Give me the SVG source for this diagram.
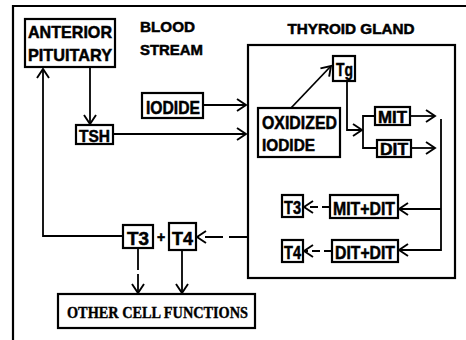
<svg xmlns="http://www.w3.org/2000/svg" width="466" height="340" viewBox="0 0 466 340">
<style>
.box{fill:#fff;stroke:#000;stroke-width:2.2}
.t{font-family:"Liberation Sans",Arial,sans-serif;font-weight:bold;fill:#000;stroke:#000;stroke-width:0.5}
.s{font-family:"Liberation Serif","Times New Roman",serif;font-weight:bold;fill:#000;stroke:#000;stroke-width:0.4}
.c{fill:none;stroke:#000;stroke-width:1.8}
</style>
<defs>
<marker id="a" markerUnits="userSpaceOnUse" markerWidth="13" markerHeight="15" refX="10" refY="7" orient="auto" viewBox="0 0 13 14">
<path d="M1,1 L10,7 L1,13" fill="none" stroke="#000" stroke-width="1.9"/>
</marker>
</defs>
<rect width="466" height="340" fill="#fff"/>
<path d="M13,340 V6 H466" fill="none" stroke="#000" stroke-width="2.2"/>
<g id="thyroid">
<rect x="248" y="45" width="207" height="233" fill="none" stroke="#000" stroke-width="2.2"/>
<text class="t" x="351" y="34" font-size="14" text-anchor="middle" textLength="127" lengthAdjust="spacingAndGlyphs">THYROID GLAND</text>
</g>
<g id="blood-stream">
<text class="t" x="140" y="32" font-size="15" textLength="55" lengthAdjust="spacingAndGlyphs">BLOOD</text>
<text class="t" x="140" y="55" font-size="15" textLength="63" lengthAdjust="spacingAndGlyphs">STREAM</text>
</g>
<g id="connectors">
<path class="c" d="M90,67 V124" marker-end="url(#a)"/>
<path class="c" d="M123,236 H43 V69" marker-end="url(#a)"/>
<path class="c" d="M203,105 H246" marker-end="url(#a)"/>
<path class="c" d="M113,134 H246" marker-end="url(#a)"/>
<path class="c" d="M291,108 L331,66" stroke-width="2.6" marker-end="url(#a)"/>
<path class="c" d="M347,81 V130 H362" stroke-width="2.2" marker-end="url(#a)"/>
<path class="c" d="M375,116 H363 V148 H377" stroke-width="2.2"/>
<path class="c" d="M410,116 H435" marker-end="url(#a)"/>
<path class="c" d="M411,148 H435" marker-end="url(#a)"/>
<path class="c" d="M441,119 V250 H399" stroke-width="2.2" marker-end="url(#a)"/>
<path class="c" d="M441,209 H399" stroke-width="2.2" marker-end="url(#a)"/>
<path class="c" d="M330,207 H304" stroke-dasharray="8 4" marker-end="url(#a)"/>
<path class="c" d="M332,251 H304" stroke-dasharray="8 4" marker-end="url(#a)"/>
<path class="c" d="M247,237 H197" stroke-dasharray="18 6" marker-end="url(#a)"/>
<path class="c" d="M138,248 V293" stroke-width="2.2" stroke-dasharray="22 4" marker-end="url(#a)"/>
<path class="c" d="M182,250 V293" stroke-width="2.4" marker-end="url(#a)"/>
</g>
<g id="anterior-pituitary">
<rect class="box" x="25" y="19" width="90" height="48"/>
<text class="t" x="28" y="38" font-size="17" textLength="84" lengthAdjust="spacingAndGlyphs">ANTERIOR</text>
<text class="t" x="28" y="61" font-size="17" textLength="84" lengthAdjust="spacingAndGlyphs">PITUITARY</text>
</g>
<g id="iodide">
<rect class="box" x="142" y="93" width="61" height="25"/>
<text class="t" x="146" y="114" font-size="18" textLength="54" lengthAdjust="spacingAndGlyphs">IODIDE</text>
</g>
<g id="tsh">
<rect class="box" x="76" y="125" width="37" height="19"/>
<text class="t" x="79" y="142" font-size="17" textLength="31" lengthAdjust="spacingAndGlyphs">TSH</text>
</g>
<g id="oxidized-iodide">
<rect class="box" x="258" y="108" width="82" height="49"/>
<text class="t" x="262" y="129" font-size="18" textLength="75" lengthAdjust="spacingAndGlyphs">OXIDIZED</text>
<text class="t" x="262" y="151" font-size="17" textLength="53" lengthAdjust="spacingAndGlyphs">IODIDE</text>
</g>
<g id="tg">
<rect class="box" x="333" y="56" width="22" height="25"/>
<text class="t" x="336" y="76" font-size="19" textLength="17" lengthAdjust="spacingAndGlyphs">Tg</text>
</g>
<g id="mit">
<rect class="box" x="375" y="107" width="35" height="18"/>
<text class="t" x="378" y="123" font-size="17" textLength="29" lengthAdjust="spacingAndGlyphs">MIT</text>
</g>
<g id="dit">
<rect class="box" x="377" y="140" width="34" height="17"/>
<text class="t" x="380" y="155" font-size="16" textLength="28" lengthAdjust="spacingAndGlyphs">DIT</text>
</g>
<g id="mit-dit">
<rect class="box" x="330" y="195" width="68" height="23"/>
<text class="t" x="333" y="215" font-size="18" textLength="62" lengthAdjust="spacingAndGlyphs">MIT+DIT</text>
</g>
<g id="dit-dit">
<rect class="box" x="332" y="240" width="66" height="22"/>
<text class="t" x="335" y="259" font-size="18" textLength="60" lengthAdjust="spacingAndGlyphs">DIT+DIT</text>
</g>
<g id="t3-inner">
<rect class="box" x="282" y="195" width="21" height="22"/>
<text class="t" x="284" y="214" font-size="18" textLength="17" lengthAdjust="spacingAndGlyphs">T3</text>
</g>
<g id="t4-inner">
<rect class="box" x="282" y="240" width="21" height="22"/>
<text class="t" x="284" y="259" font-size="18" textLength="17" lengthAdjust="spacingAndGlyphs">T4</text>
</g>
<g id="t3">
<rect class="box" x="123" y="225" width="30" height="23"/>
<text class="t" x="127" y="245" font-size="19" textLength="22" lengthAdjust="spacingAndGlyphs">T3</text>
</g>
<text class="t" x="161" y="242" font-size="14" text-anchor="middle">+</text>
<g id="t4">
<rect class="box" x="169" y="223" width="27" height="27"/>
<text class="t" x="172" y="245" font-size="19" textLength="21" lengthAdjust="spacingAndGlyphs">T4</text>
</g>
<g id="other-cell-functions">
<rect class="box" x="58" y="294" width="197" height="34"/>
<text class="s" x="67" y="318" font-size="17" textLength="181" lengthAdjust="spacingAndGlyphs">OTHER CELL FUNCTIONS</text>
</g>
</svg>
